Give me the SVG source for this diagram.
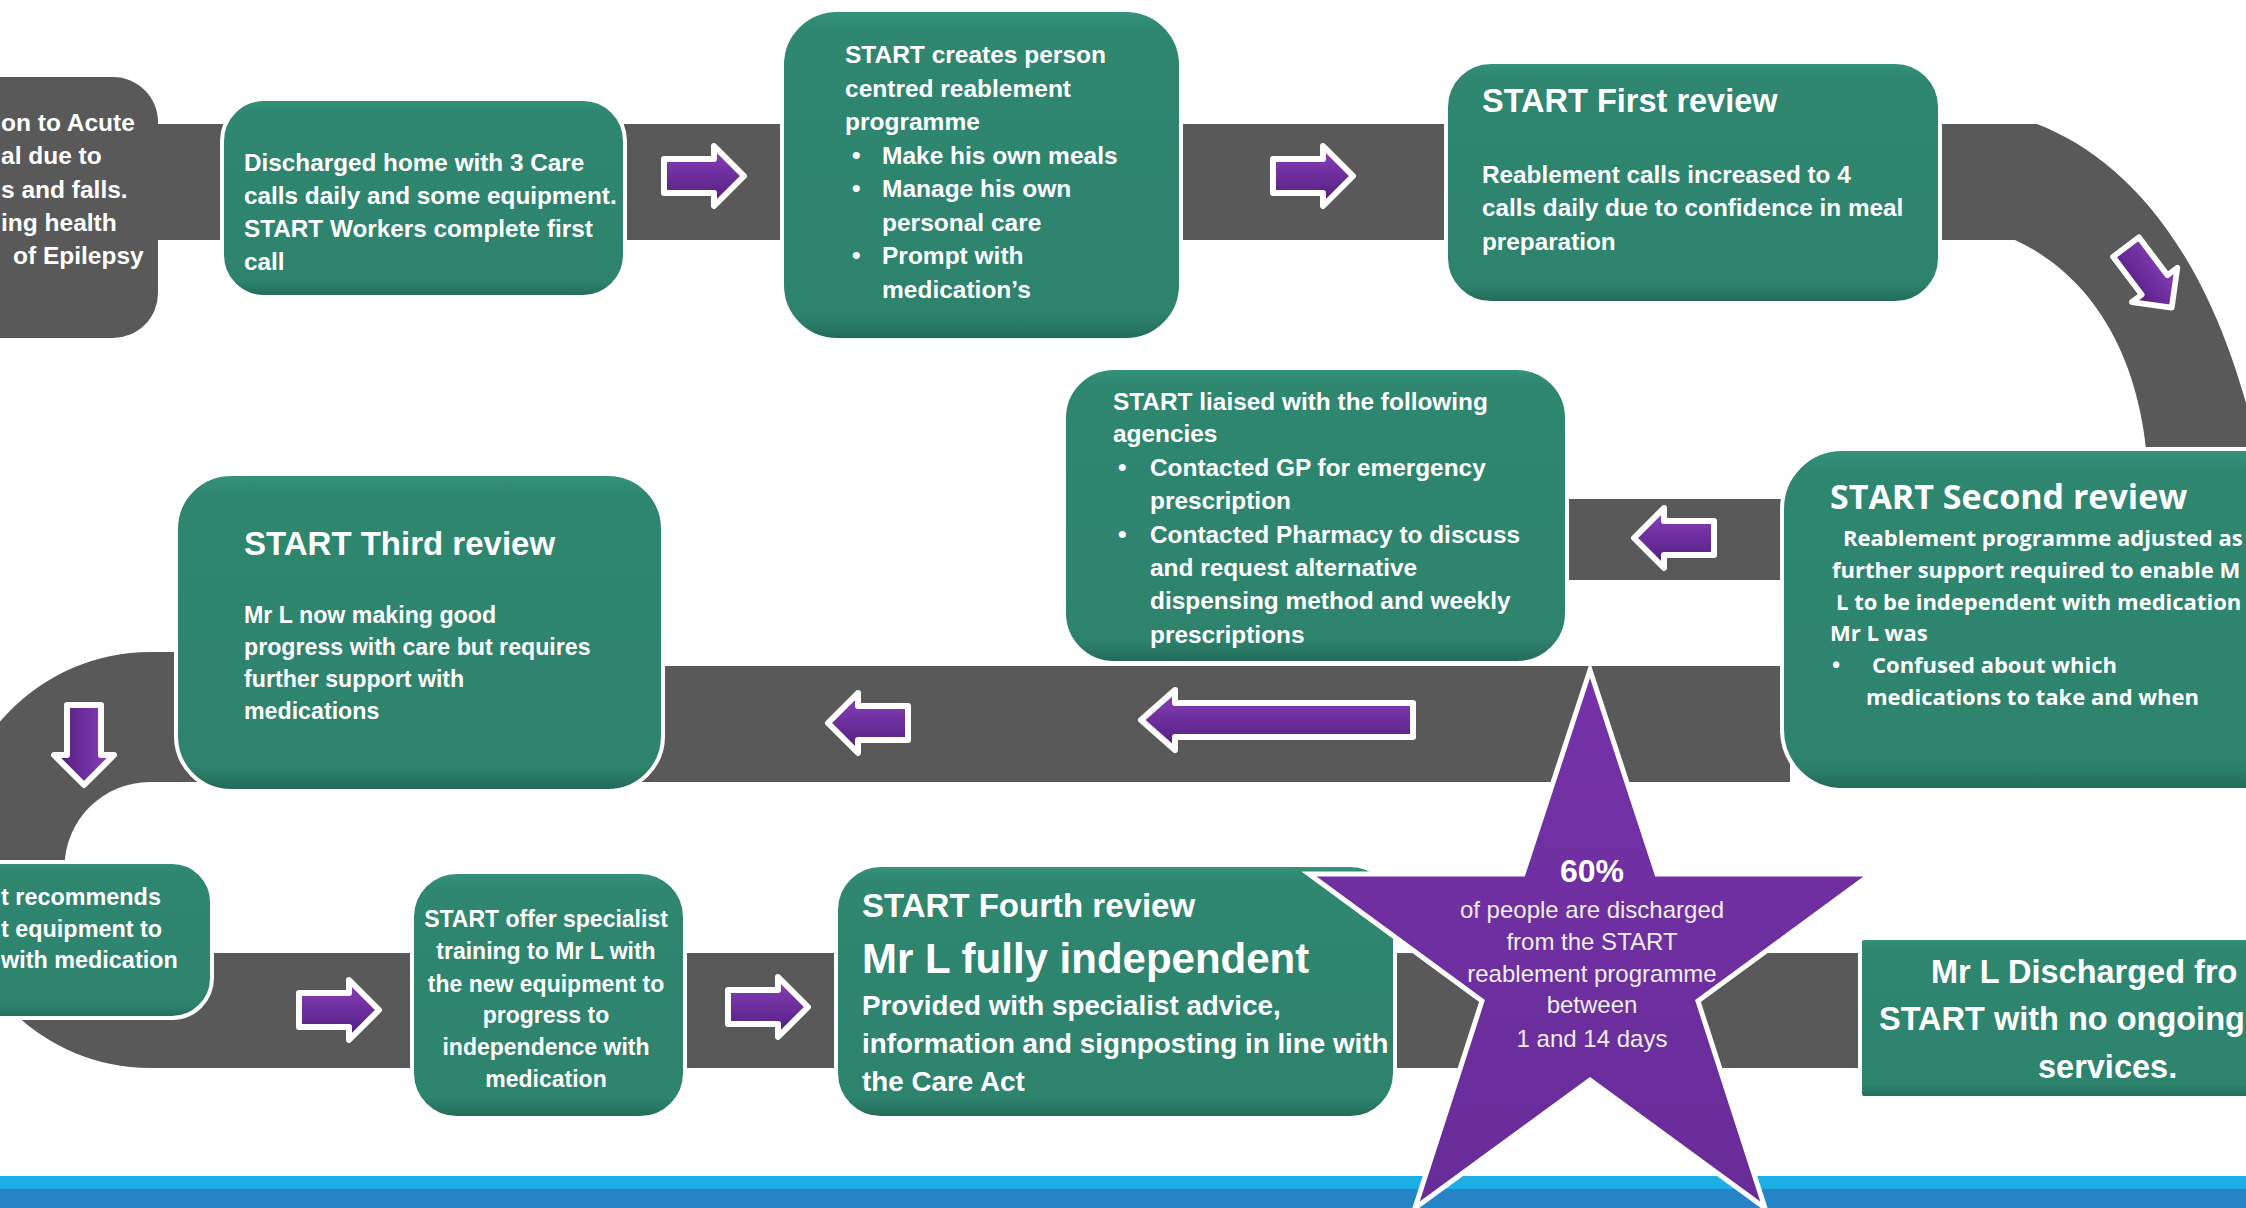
<svg xmlns="http://www.w3.org/2000/svg" width="2246" height="1208" viewBox="0 0 2246 1208">
<defs>
<linearGradient id="gGreen" x1="0" y1="0" x2="0" y2="1">
<stop offset="0" stop-color="#35937C"/>
<stop offset="0.06" stop-color="#2F8770"/>
<stop offset="0.92" stop-color="#2E836D"/>
<stop offset="1" stop-color="#216A57"/>
</linearGradient>
<linearGradient id="gPurple" x1="0" y1="0" x2="0" y2="1">
<stop offset="0" stop-color="#8A44BE"/>
<stop offset="0.45" stop-color="#7030A0"/>
<stop offset="1" stop-color="#4F1C7A"/>
</linearGradient>
<linearGradient id="gStar" x1="0" y1="0" x2="0" y2="1">
<stop offset="0" stop-color="#7532A8"/>
<stop offset="1" stop-color="#682C98"/>
</linearGradient>
<path id="arw" d="M0,-17 H50 V-30 L80,0 L50,30 V17 H0 Z"/>
<style>
.road{fill:#595959}
.box{fill:url(#gGreen);stroke:#ffffff;stroke-width:4}
.gbox{fill:#595959}
.arr{fill:url(#gPurple);stroke:#ffffff;stroke-width:6;stroke-linejoin:round}
.t{font-family:"Liberation Sans",Arial,sans-serif;font-weight:bold;fill:#ffffff}
.o{font-family:"Open Sans","Liberation Sans",sans-serif;font-weight:bold;fill:#ffffff}
.s{font-family:"Liberation Sans",Arial,sans-serif;fill:#EEEEEE}
.c{text-anchor:middle}
</style>
</defs>
<rect x="0" y="0" width="2246" height="1208" fill="#ffffff"/>

<g id="connectors">
<rect class="road" x="-10" y="124" width="1960" height="116"/>
<path class="road" d="M1940,124 H2037 C2130,160 2220,260 2262,470 H2148 C2140,340 2080,270 2015,240 H1940 Z"/>
<rect class="road" x="1560" y="499" width="230" height="81"/>
<rect class="road" x="150" y="666" width="1640" height="116"/>
<path class="road" d="M176,652 H150 A201,208 0 0 0 150,1068 V953 A85.5,85.5 0 0 1 150,782 H176 Z"/>
<rect class="road" x="150" y="953" width="1715" height="115"/>
<use class="arr" href="#arw" transform="translate(664,176)"/>
<use class="arr" href="#arw" transform="translate(1273,176)"/>
<use class="arr" href="#arw" transform="translate(2126,247) rotate(53) scale(0.95)"/>
<use class="arr" href="#arw" transform="translate(1714,538) scale(-1,1)"/>
<path class="arr" d="M1413,703 H1175 V690 L1141,720 L1175,750 V737 H1413 Z"/>
<use class="arr" href="#arw" transform="translate(908,723) scale(-1,1)"/>
<use class="arr" href="#arw" transform="translate(84,705) rotate(90)"/>
<use class="arr" href="#arw" transform="translate(299,1010)"/>
<use class="arr" href="#arw" transform="translate(728,1007)"/>
</g>

<g id="node-admission">
<rect class="gbox" x="-60" y="77" width="218" height="261" rx="45"/>
<text class="t" font-size="24.5"><tspan x="1" y="131">on to Acute</tspan><tspan x="1" y="164">al due to</tspan><tspan x="1" y="198">s and falls.</tspan><tspan x="1" y="231">ing health</tspan><tspan x="13" y="264">of Epilepsy</tspan></text>
</g>

<g id="node-discharged">
<rect class="box" x="222" y="99" width="403" height="198" rx="42"/>
<text class="t" font-size="24.3"><tspan x="244" y="171">Discharged home with 3 Care</tspan><tspan x="244" y="204">calls daily and some equipment.</tspan><tspan x="244" y="237">START Workers complete first</tspan><tspan x="244" y="270">call</tspan></text>
</g>

<g id="node-programme">
<rect class="box" x="782" y="10" width="399" height="330" rx="55"/>
<text class="t" font-size="24.5"><tspan x="845" y="63">START creates person</tspan><tspan x="845" y="97">centred reablement</tspan><tspan x="845" y="130">programme</tspan><tspan x="852" y="164">•</tspan><tspan x="882" y="164">Make his own meals</tspan><tspan x="852" y="197">•</tspan><tspan x="882" y="197">Manage his own</tspan><tspan x="882" y="231">personal care</tspan><tspan x="852" y="264">•</tspan><tspan x="882" y="264">Prompt with</tspan><tspan x="882" y="298">medication’s</tspan></text>
</g>

<g id="node-first-review">
<rect class="box" x="1446" y="62" width="494" height="241" rx="45"/>
<text class="t" font-size="32.5" x="1482" y="112">START First review</text>
<text class="t" font-size="24.3"><tspan x="1482" y="183">Reablement calls increased to 4</tspan><tspan x="1482" y="216">calls daily due to confidence in meal</tspan><tspan x="1482" y="250">preparation</tspan></text>
</g>

<g id="node-second-review">
<rect class="box" x="1782" y="449" width="520" height="341" rx="60"/>
<text class="o" font-size="34" x="1830" y="509">START Second review</text>
<text class="o" font-size="22"><tspan x="1843" y="546">Reablement programme adjusted as</tspan><tspan x="1832" y="578">further support required to enable M</tspan><tspan x="1836" y="610">L to be independent with medication</tspan><tspan x="1830" y="641">Mr L was</tspan><tspan x="1832" y="673">•</tspan><tspan x="1872" y="673">Confused about which</tspan><tspan x="1866" y="705">medications to take and when</tspan></text>
</g>

<g id="node-liaised">
<rect class="box" x="1064" y="368" width="503" height="295" rx="50"/>
<text class="t" font-size="24.4"><tspan x="1113" y="410">START liaised with the following</tspan><tspan x="1113" y="442">agencies</tspan><tspan x="1118" y="476">•</tspan><tspan x="1150" y="476">Contacted GP for emergency</tspan><tspan x="1150" y="509">prescription</tspan><tspan x="1118" y="543">•</tspan><tspan x="1150" y="543">Contacted Pharmacy to discuss</tspan><tspan x="1150" y="576">and request alternative</tspan><tspan x="1150" y="609">dispensing method and weekly</tspan><tspan x="1150" y="643">prescriptions</tspan></text>
</g>

<g id="node-third-review">
<rect class="box" x="176" y="474" width="487" height="317" rx="55"/>
<text class="t" font-size="33" x="244" y="555">START Third review</text>
<text class="t" font-size="23.2"><tspan x="244" y="623">Mr L now making good</tspan><tspan x="244" y="655">progress with care but requires</tspan><tspan x="244" y="687">further support with</tspan><tspan x="244" y="719">medications</tspan></text>
</g>

<g id="node-recommends">
<rect class="box" x="-60" y="862" width="272" height="156" rx="40"/>
<text class="t" font-size="23.4"><tspan x="1" y="905">t recommends</tspan><tspan x="1" y="937">t equipment to</tspan><tspan x="1" y="968">with medication</tspan></text>
</g>

<g id="node-training">
<rect class="box" x="412" y="872" width="273" height="246" rx="45"/>
<text class="t c" font-size="23"><tspan x="546" y="927">START offer specialist</tspan><tspan x="546" y="959">training to Mr L with</tspan><tspan x="546" y="992">the new equipment to</tspan><tspan x="546" y="1023">progress to</tspan><tspan x="546" y="1055">independence with</tspan><tspan x="546" y="1087">medication</tspan></text>
</g>

<g id="node-fourth-review">
<rect class="box" x="836" y="865" width="559" height="253" rx="45"/>
<text class="t" font-size="33" x="862" y="917">START Fourth review</text>
<text class="t" font-size="42" x="862" y="973">Mr L fully independent</text>
<text class="t" font-size="27.8"><tspan x="862" y="1015">Provided with specialist advice,</tspan><tspan x="862" y="1053">information and signposting in line with</tspan><tspan x="862" y="1091">the Care Act</tspan></text>
</g>

<g id="footer">
<rect x="0" y="1176" width="2246" height="13" fill="#1DAEE3"/>
<rect x="0" y="1189" width="2246" height="19" fill="#2583C6"/>
</g>

<g id="node-discharged-final">
<rect class="box" x="1860" y="938" width="440" height="160" rx="4"/>
<text class="t" font-size="32.5"><tspan x="1931" y="983">Mr L Discharged fro</tspan><tspan x="1879" y="1030">START with no ongoing</tspan><tspan x="2038" y="1078">services.</tspan></text>
</g>

<g id="star-60">
<polygon points="1590,670 1657,874 1871,874 1698,1001 1765,1208 1590,1080 1415,1208 1482,1001 1309,874 1523,874" fill="url(#gStar)" stroke="#ffffff" stroke-width="5" stroke-linejoin="miter"/>
<text class="t c" font-size="32" x="1592" y="882">60%</text>
<text class="s c" font-size="24"><tspan x="1592" y="918">of people are discharged</tspan><tspan x="1592" y="950">from the START</tspan><tspan x="1592" y="982">reablement programme</tspan><tspan x="1592" y="1013">between</tspan><tspan x="1592" y="1047">1 and 14 days</tspan></text>
</g>
</svg>
